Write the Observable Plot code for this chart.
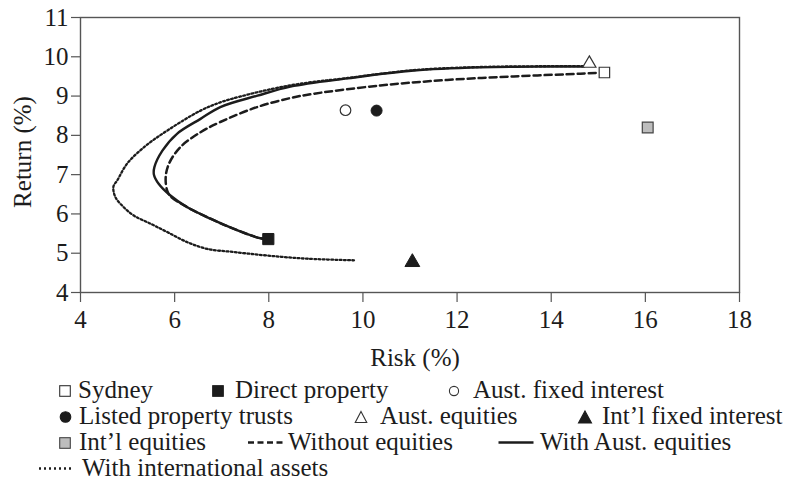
<!DOCTYPE html>
<html>
<head>
<meta charset="utf-8">
<script src="https://cdn.jsdelivr.net/npm/d3@7"></script>
<script src="https://cdn.jsdelivr.net/npm/@observablehq/plot@0.6"></script>
<style>
  body { margin: 0; background: #fff; }
  #wrap { position: relative; width: 792px; height: 481px; font-family: "Liberation Serif", "Times New Roman", serif; }
  #wrap > svg { position: absolute; left: 0; top: 0; }
  #wrap svg text { font-family: "Liberation Serif", "Times New Roman", serif; }
</style>
</head>
<body>
<div id="wrap"></div>
<script>
// ---------- data ----------
const xTicks = [4, 6, 8, 10, 12, 14, 16, 18];
const yTicks = [4, 5, 6, 7, 8, 9, 10, 11];
const xLabel = "Risk (%)";
const yLabel = "Return (%)";

const assetNames  = ["Sydney", "Direct property", "Aust. fixed interest", "Listed property trusts", "Aust. equities", "Int\u2019l fixed interest", "Int\u2019l equities"];
const assetRisk   = [15.13, 7.99, 9.63, 10.29, 14.81, 11.05, 16.05];
const assetReturn = [9.60, 5.36, 8.64, 8.63, 9.83, 4.77, 8.20];

const lineNames = ["Without equities", "With Aust. equities", "With international assets"];

const withoutEqRisk   = [7.99, 7.82, 7.26, 6.76, 6.27, 5.91, 5.84, 5.81, 5.88, 6.12, 6.55, 6.97, 7.75, 8.46, 8.96, 10.37, 11.79, 13.20, 14.62, 15.00];
const withoutEqReturn = [5.36, 5.38, 5.62, 5.88, 6.17, 6.45, 6.60, 6.94, 7.28, 7.70, 8.08, 8.34, 8.72, 8.95, 9.06, 9.27, 9.41, 9.50, 9.57, 9.59];

const withAusRisk   = [7.99, 7.82, 7.26, 6.76, 6.27, 5.91, 5.66, 5.56, 5.57, 5.74, 6.05, 6.55, 6.97, 7.76, 8.46, 9.67, 11.08, 12.50, 13.92, 14.70];
const withAusReturn = [5.36, 5.38, 5.62, 5.88, 6.17, 6.47, 6.77, 7.00, 7.19, 7.61, 8.04, 8.42, 8.72, 9.01, 9.24, 9.45, 9.65, 9.73, 9.75, 9.75];

const withIntlRisk   = [9.81, 8.82, 7.97, 7.26, 6.69, 6.27, 5.84, 5.49, 5.13, 4.92, 4.74, 4.70, 4.78, 4.99, 5.35, 5.84, 6.55, 6.97, 7.40, 8.10, 8.70, 9.67, 11.08, 12.50, 13.92, 14.70];
const withIntlReturn = [4.82, 4.86, 4.94, 5.03, 5.11, 5.28, 5.54, 5.75, 5.96, 6.17, 6.43, 6.70, 6.85, 7.28, 7.70, 8.12, 8.63, 8.84, 8.99, 9.19, 9.32, 9.46, 9.66, 9.74, 9.76, 9.76];

// ---------- styles ----------
const FONT = "'Liberation Serif', 'Times New Roman', serif";
const ink = "#1c1c1c";
const axisGray = "#555";
const assetStyle = [
  {symbol: "square",   fill: "#fff",  stroke: "#333", r: 5.9, strokeWidth: 1.2},
  {symbol: "square",   fill: ink,     stroke: ink,    r: 6.3, strokeWidth: 1},
  {symbol: "circle",   fill: "#fff",  stroke: "#333", r: 5.3, strokeWidth: 1.2},
  {symbol: "circle",   fill: ink,     stroke: ink,    r: 5.5, strokeWidth: 1},
  {symbol: "triangle", fill: "#fff",  stroke: "#333", r: 4.9, strokeWidth: 1.2},
  {symbol: "triangle", fill: ink,     stroke: ink,    r: 5.5, strokeWidth: 1},
  {symbol: "square",   fill: "#bdbdbd", stroke: "#444", r: 6.1, strokeWidth: 1.2}
];
const lineStyle = [
  {dash: "7,4", width: 2.5},
  {dash: null,  width: 2.4},
  {dash: "1.8,2.4", width: 2.3}
];

const lineSeries = [
  [withoutEqRisk, withoutEqReturn],
  [withAusRisk, withAusReturn],
  [withIntlRisk, withIntlReturn]
];

const lineMarks = lineSeries.map(([xs, ys], k) =>
  Plot.line(d3.range(xs.length), {
    x: i => xs[i], y: i => ys[i],
    curve: "catmull-rom",
    stroke: ink,
    strokeWidth: lineStyle[k].width,
    strokeDasharray: lineStyle[k].dash ?? undefined
  })
);

const dotMarks = assetNames.map((name, i) =>
  Plot.dot([i], {
    x: j => assetRisk[j], y: j => assetReturn[j],
    symbol: assetStyle[i].symbol,
    fill: assetStyle[i].fill,
    stroke: assetStyle[i].stroke,
    strokeWidth: assetStyle[i].strokeWidth,
    r: assetStyle[i].r
  })
);

const chart = Plot.plot({
  width: 792,
  height: 481,
  marginTop: 17,
  marginLeft: 80,
  marginRight: 53,
  marginBottom: 189,
  style: `font-family: ${FONT}; font-size: 25px; color: ${ink}; background: #fff;`,
  x: {domain: [4, 18]},
  y: {domain: [4, 11]},
  marks: [
    Plot.axisX({ticks: xTicks, tickFormat: d => String(d), tickSize: 10, tickPadding: 8, label: null, stroke: axisGray, strokeWidth: 1.2, fill: ink}),
    Plot.axisY({ticks: yTicks, tickFormat: d => String(d), tickSize: 9, tickPadding: 3, label: null, stroke: axisGray, strokeWidth: 1.2, fill: ink}),
    ...lineMarks,
    ...dotMarks,
    Plot.frame({stroke: axisGray, strokeWidth: 1.4}),
    Plot.text([xLabel], {text: d => d, frameAnchor: "bottom", textAnchor: "middle", lineAnchor: "middle", dy: 65, dx: 5, fill: ink}),
    Plot.text([yLabel], {text: d => d, frameAnchor: "left", textAnchor: "middle", lineAnchor: "middle", rotate: -90, dx: -58, dy: -3, fill: ink})
  ]
});
chart.setAttribute("font-family", FONT);
chart.setAttribute("font-size", "25");

const wrap = document.getElementById("wrap");
wrap.appendChild(chart);

// ---------- legend (below the chart) ----------
const leg = d3.select(wrap).append("svg")
  .attr("width", 792).attr("height", 481)
  .attr("font-family", FONT)
  .style("font-family", FONT)
  .style("font-size", "25px");

const rows = [398, 424, 450, 476];
// [kind, index, markerCenterX, textX, row]
const legendItems = [
  ["asset", 0, 65, 78, 0],
  ["asset", 1, 218, 235, 0],
  ["asset", 2, 454, 473, 0],
  ["asset", 3, 65.5, 79, 1],
  ["asset", 4, 361, 380, 1],
  ["asset", 5, 585, 602, 1],
  ["asset", 6, 65, 79, 2],
  ["line", 0, 265.5, 288, 2],
  ["line", 1, 516, 540, 2],
  ["line", 2, 56.5, 82, 3]
];

for (const [kind, idx, mx, tx, row] of legendItems) {
  const base = rows[row];
  if (kind === "asset") {
    const st = assetStyle[idx];
    const cy = base - 7;
    const g = leg.append("g");
    if (st.symbol === "square") {
      g.append("rect").attr("x", mx - 5.3).attr("y", cy - 5.3).attr("width", 10.6).attr("height", 10.6)
        .attr("fill", st.fill).attr("stroke", st.stroke).attr("stroke-width", 1.1);
    } else if (st.symbol === "circle") {
      g.append("circle").attr("cx", mx).attr("cy", cy).attr("r", st.fill === "#fff" ? 4.6 : 5.3)
        .attr("fill", st.fill).attr("stroke", st.stroke).attr("stroke-width", 1.1);
    } else {
      const w = st.fill === "#fff" ? 11.5 : 13, h = st.fill === "#fff" ? 10 : 11;
      g.append("path").attr("d", `M${mx},${cy - h / 2 - 0.5}L${mx + w / 2},${cy + h / 2 + 0.5}L${mx - w / 2},${cy + h / 2 + 0.5}Z`)
        .attr("fill", st.fill).attr("stroke", st.stroke).attr("stroke-width", 1.1);
    }
    leg.append("text").attr("x", tx).attr("y", base).attr("fill", ink).text(assetNames[idx]);
  } else {
    const cy = base - 7.5;
    const half = 17.5;
    leg.append("line").attr("x1", mx - half).attr("x2", mx + half).attr("y1", cy).attr("y2", cy)
      .attr("stroke", ink).attr("stroke-width", idx === 1 ? 2.6 : 2.3)
      .attr("stroke-dasharray", idx === 0 ? "6,3.5" : idx === 2 ? "2,3" : null);
    leg.append("text").attr("x", tx).attr("y", base).attr("fill", ink).text(lineNames[idx]);
  }
}
</script>
</body>
</html>
